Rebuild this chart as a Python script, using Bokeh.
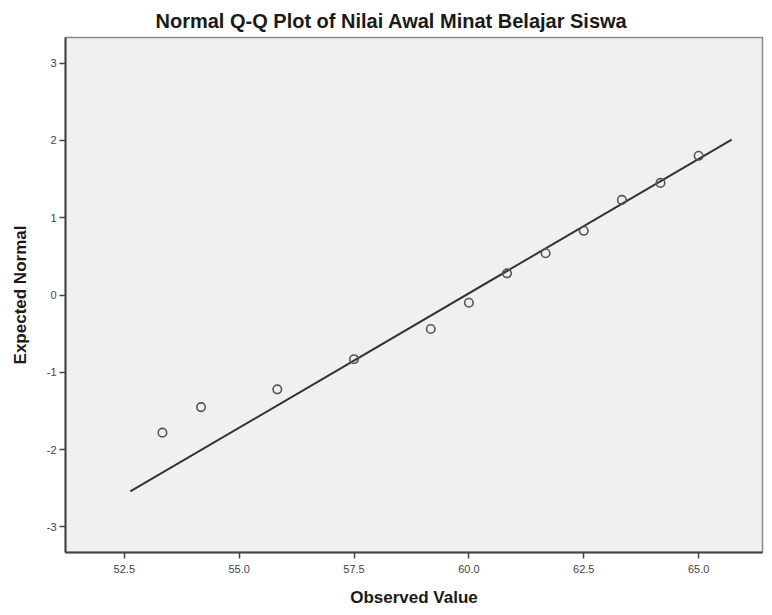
from bokeh.plotting import figure
from bokeh.models import FixedTicker, ColumnDataSource
from bokeh.embed import file_html
from bokeh.resources import INLINE

# Data
observed = [53.33, 54.17, 55.83, 57.5, 59.17, 60.0, 60.83, 61.67, 62.5, 63.33, 64.17, 65.0]
expected = [-1.78, -1.45, -1.22, -0.83, -0.44, -0.10, 0.28, 0.54, 0.83, 1.23, 1.45, 1.80]
line_x = [52.63, 65.72]
line_y = [-2.54, 2.01]
x_ticks = [52.5, 55.0, 57.5, 60.0, 62.5, 65.0]
x_labels = ["52.5", "55.0", "57.5", "60.0", "62.5", "65.0"]
y_ticks = [-3, -2, -1, 0, 1, 2, 3]
y_labels = ["-3", "-2", "-1", "0", "1", "2", "3"]

FONT = "Liberation Sans"

p = figure(
    frame_width=697, frame_height=515,
    x_range=(51.22, 66.39), y_range=(-3.33, 3.33),
    output_backend="svg", toolbar_location=None,
    min_border_left=65, min_border_right=2, min_border_top=37, min_border_bottom=55,
    title="Normal Q-Q Plot of Nilai Awal Minat Belajar Siswa",
)
p.title.align = "left"
p.title.offset = 90
p.title.text_font = FONT
p.title.text_font_size = "20px"
p.title.text_font_style = "bold"
p.title.text_color = "#1a1a1a"
p.title.standoff = 12

p.background_fill_color = "#F0F0F0"
p.border_fill_color = "white"
p.outline_line_color = "#888888"
p.outline_line_width = 1.5
p.xgrid.visible = False
p.ygrid.visible = False

src = ColumnDataSource(dict(x=observed, y=expected))
p.line(line_x, line_y, line_color="#333333", line_width=2)
p.scatter("x", "y", source=src, marker="circle", size=8.5, fill_color=None,
          line_color="#555555", line_width=1.6)

for ax, ticks, labels in ((p.xaxis[0], x_ticks, x_labels), (p.yaxis[0], y_ticks, y_labels)):
    ax.ticker = FixedTicker(ticks=ticks, minor_ticks=[])
    ax.major_label_overrides = {t: l for t, l in zip(ticks, labels)}
    ax.major_label_text_font = FONT
    ax.major_label_text_font_size = "11px"
    ax.major_label_text_color = "#444444"
    ax.major_tick_out = 6
    ax.major_tick_in = 0
    ax.minor_tick_out = 0
    ax.minor_tick_in = 0
    ax.major_tick_line_color = "#444444"
    ax.major_tick_line_width = 1.5
    ax.axis_line_color = "#444444"
    ax.axis_line_width = 2
    ax.axis_label_text_font = FONT
    ax.axis_label_text_font_size = "17px"
    ax.axis_label_text_font_style = "bold"
    ax.axis_label_text_color = "#1a1a1a"

p.xaxis.axis_label = "Observed Value"
p.yaxis.axis_label = "Expected Normal"
p.xaxis.major_label_standoff = 6
p.yaxis.major_label_standoff = 3
p.xaxis.axis_label_standoff = 12
p.yaxis.axis_label_standoff = 14

open("out.html", "w").write(file_html(p, INLINE))
